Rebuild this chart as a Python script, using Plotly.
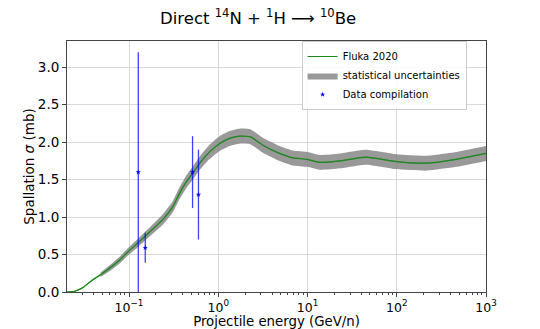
import plotly.graph_objects as go

# Fluka 2020 curve
energy = [0.020, 0.0246, 0.0305, 0.038, 0.048, 0.061, 0.079, 0.10, 0.127, 0.17,
          0.24, 0.31, 0.369, 0.438, 0.52, 0.62, 0.80, 1.03, 1.34, 1.73, 2.3,
          3.16, 4.86, 6.85, 10.0, 13.6, 22.9, 45.0, 100.0, 215.0, 462.0, 1000.0]
sigma = [0.0, 0.01, 0.06, 0.15, 0.23, 0.32, 0.43, 0.55, 0.66, 0.80,
         0.97, 1.14, 1.32, 1.47, 1.59, 1.72, 1.87, 1.98, 2.05, 2.08, 2.07,
         1.96, 1.85, 1.79, 1.77, 1.73, 1.75, 1.80, 1.74, 1.72, 1.77, 1.85]
# statistical uncertainty half-width (None = no band)
sigma_err = [None, None, None, None, 0.03, 0.04, 0.045, 0.05, 0.055, 0.06,
             0.07, 0.075, 0.08, 0.085, 0.09, 0.09, 0.095, 0.1, 0.1, 0.1, 0.1,
             0.1, 0.1, 0.1, 0.1, 0.1, 0.1, 0.1, 0.1, 0.1, 0.1, 0.1]

# data compilation
data_e = [0.127, 0.152, 0.515, 0.60]
data_s = [1.60, 0.59, 1.60, 1.30]
data_err = [1.60, 0.20, 0.48, 0.60]

band_e = [e for e, d in zip(energy, sigma_err) if d is not None]
band_hi = [s + d for s, d in zip(sigma, sigma_err) if d is not None]
band_lo = [s - d for s, d in zip(sigma, sigma_err) if d is not None]

green = "#1a8a1a"
fig = go.Figure()
fig.add_trace(go.Scatter(x=energy, y=sigma, mode="lines",
                         line=dict(color=green, width=1.2, shape="spline", smoothing=0.5),
                         name="Fluka 2020"))
fig.add_trace(go.Scatter(x=band_e, y=band_lo, mode="lines",
                         line=dict(width=0, shape="spline", smoothing=0.5),
                         showlegend=False, hoverinfo="skip"))
fig.add_trace(go.Scatter(x=band_e, y=band_hi, mode="lines",
                         line=dict(width=0, shape="spline", smoothing=0.5),
                         fill="tonexty", fillcolor="rgba(128,128,128,0.8)",
                         name="statistical uncertainties"))
fig.add_trace(go.Scatter(x=energy, y=sigma, mode="lines",
                         line=dict(color=green, width=1.2, shape="spline", smoothing=0.5),
                         showlegend=False, hoverinfo="skip"))
fig.add_trace(go.Scatter(x=data_e, y=data_s, mode="markers",
                         marker=dict(color="blue", size=4, symbol="star"),
                         error_y=dict(type="data", array=data_err, color="rgba(0,0,255,0.75)",
                                      thickness=1.3, width=0),
                         name="Data compilation"))

minor_vals = [m * 10 ** k for k in range(-2, 3) for m in range(2, 10)]

axis_common = dict(showline=True, linecolor="#444", linewidth=1, mirror=True,
                   ticks="outside", tickcolor="#444",
                   showgrid=True, gridcolor="#d9d9d9", gridwidth=1,
                   zeroline=False, automargin=False)

fig.update_layout(
    width=540, height=329,
    margin=dict(l=67, r=54, t=41, b=37),
    paper_bgcolor="white", plot_bgcolor="white",
    font=dict(family="DejaVu Sans", color="black"),
    title=dict(text="Direct <sup>14</sup>N + <sup>1</sup>H ⟶ <sup>10</sup>Be",
               x=0.478, xanchor="center", y=0.945, yanchor="middle",
               font=dict(size=16.5)),
    legend=dict(x=0.56, y=1.0, xanchor="left", yanchor="top", traceorder="normal",
                bgcolor="rgba(255,255,255,0.85)", bordercolor="#cccccc", borderwidth=1,
                font=dict(size=10), tracegroupgap=0, itemwidth=30),
    showlegend=True,
)
fig.update_xaxes(type="log", range=[-1.695, 3],
                 tickvals=[0.1, 1, 10, 100, 1000],
                 ticktext=["10<sup>−1</sup>", "10<sup>0</sup>", "10<sup>1</sup>",
                           "10<sup>2</sup>", "10<sup>3</sup>"],
                 tickfont=dict(size=12.5, color="black"), ticklen=3.5,
                 minor=dict(tickvals=minor_vals, ticks="outside", ticklen=2, tickcolor="#444"),
                 title=dict(text="Projectile energy (GeV/n)", font=dict(size=13.3), standoff=2),
                 **axis_common)
fig.update_yaxes(range=[0, 3.35], tickvals=[0, 0.5, 1.0, 1.5, 2.0, 2.5, 3.0],
                 tickformat=".1f", tickfont=dict(size=13.5, color="black"), ticklen=4,
                 title=dict(text="Spallation <i>σ</i> (mb)", font=dict(size=13.5), standoff=0),
                 **axis_common)

fig.write_html("out.html", config={"displayModeBar": False},
               post_script="document.body.style.margin='0';")
